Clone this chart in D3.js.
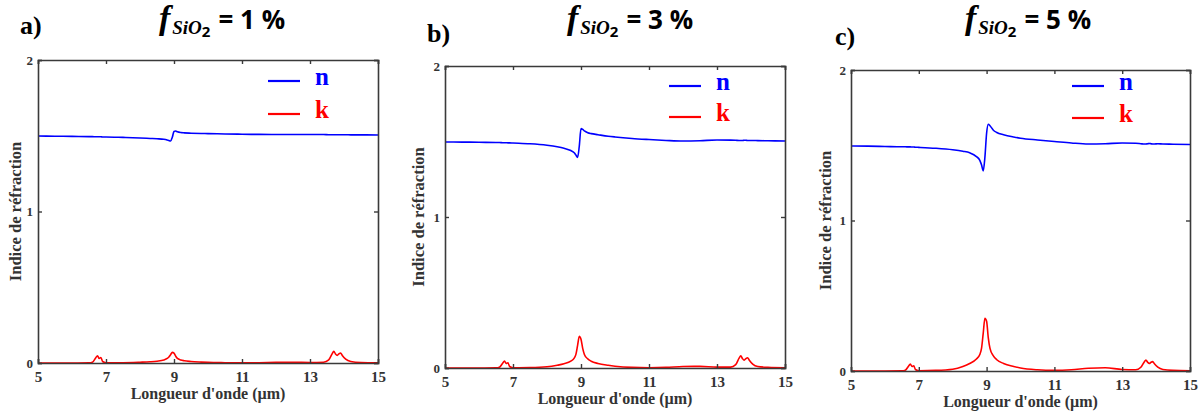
<!DOCTYPE html>
<html><head><meta charset="utf-8">
<script src="https://cdn.jsdelivr.net/npm/d3@7"></script>
<style>body{margin:0;background:#fff}svg{display:block}</style>
</head><body>
<svg id="c" width="1204" height="412"></svg>
<script>
// ---- data ----
const wavelength = [5,5.5,6,6.5,6.6,6.7,6.75,6.8,6.85,6.9,7.0,7.5,8,8.3,8.5,8.7,8.8,8.85,8.9,8.95,9.0,9.05,9.1,9.2,9.3,9.5,9.8,10,10.5,11,11.5,12,12.5,13,13.4,13.55,13.65,13.7,13.75,13.8,13.85,13.9,13.95,14.05,14.2,14.5,15];
const nA = [1.498,1.497,1.496,1.494,1.494,1.493,1.493,1.493,1.493,1.492,1.492,1.489,1.485,1.482,1.480,1.477,1.472,1.468,1.465,1.490,1.528,1.531,1.526,1.521,1.519,1.517,1.515,1.514,1.512,1.510,1.509,1.508,1.508,1.508,1.508,1.507,1.507,1.507,1.507,1.507,1.507,1.507,1.507,1.507,1.506,1.506,1.505];
const kA = [0,0,0,0.001,0.005,0.035,0.048,0.03,0.036,0.01,0.002,0.002,0.005,0.008,0.012,0.02,0.03,0.04,0.055,0.07,0.065,0.045,0.03,0.02,0.015,0.01,0.006,0.004,0.002,0.001,0.002,0.004,0.005,0.003,0.005,0.02,0.06,0.077,0.06,0.05,0.06,0.066,0.05,0.025,0.01,0.003,0.001];
const nB = [1.497,1.496,1.495,1.493,1.493,1.492,1.492,1.492,1.491,1.491,1.490,1.485,1.475,1.465,1.455,1.440,1.425,1.410,1.395,1.470,1.585,1.580,1.570,1.558,1.552,1.545,1.535,1.530,1.520,1.513,1.507,1.503,1.505,1.510,1.509,1.508,1.507,1.507,1.507,1.508,1.508,1.507,1.507,1.507,1.506,1.505,1.503];
const kB = [0,0,0,0.001,0.005,0.033,0.046,0.03,0.035,0.01,0.002,0.003,0.008,0.018,0.028,0.045,0.065,0.09,0.15,0.21,0.19,0.13,0.09,0.06,0.045,0.03,0.018,0.012,0.004,0.002,0.004,0.01,0.011,0.006,0.006,0.022,0.065,0.08,0.062,0.052,0.062,0.068,0.052,0.026,0.01,0.004,0.001];
const nC = [1.495,1.494,1.492,1.490,1.490,1.489,1.489,1.488,1.488,1.487,1.486,1.480,1.470,1.460,1.450,1.425,1.400,1.370,1.330,1.420,1.580,1.640,1.630,1.600,1.585,1.570,1.555,1.547,1.535,1.525,1.515,1.508,1.510,1.515,1.513,1.510,1.508,1.508,1.510,1.512,1.510,1.508,1.508,1.510,1.508,1.507,1.505];
const kC = [0,0,0,0.001,0.005,0.033,0.046,0.03,0.035,0.01,0.002,0.004,0.012,0.03,0.05,0.08,0.11,0.15,0.25,0.35,0.33,0.22,0.15,0.10,0.075,0.05,0.03,0.02,0.008,0.004,0.008,0.018,0.022,0.01,0.008,0.025,0.06,0.073,0.058,0.05,0.058,0.062,0.048,0.025,0.01,0.004,0.002];
const xTicks = [5,7,9,11,13,15];
const yTicks = [0,1,2];
const panelLetters = ["a)","b)","c)"];
const fractions = ["1","3","5"];
const seriesNames = ["n","k"];

// ---- layout ----
const layout = [
  {l:38, r:378, t:60, b:363, letterX:20, letterY:34, titleX:222, legX:268, legNY:81, legKY:114, ylabX:17},
  {l:445, r:785, t:66, b:368, letterX:427, letterY:42, titleX:630, legX:669, legNY:86, legKY:117, ylabX:420},
  {l:851, r:1190, t:70, b:371, letterX:835, letterY:45, titleX:1028, legX:1072, legNY:86, legKY:118, ylabX:827}
];
const nData = [nA,nB,nC], kData = [kA,kB,kC];
const colors = {n:"#0000ff", k:"#ff0000"};
const serif = "'Liberation Serif','Times New Roman',serif";
const sans = "'Open Sans','Liberation Sans',sans-serif";

const svg = d3.select("#c");

layout.forEach((L,i)=>{
  const g = svg.append("g");
  const x = d3.scaleLinear().domain([5,15]).range([L.l,L.r]);
  const y = d3.scaleLinear().domain([0,2]).range([L.b,L.t]);

  // curves
  const line = d3.line().x((d,j)=>x(wavelength[j])).y(d=>y(d)).curve(d3.curveMonotoneX);
  g.append("path").datum(nData[i]).attr("d",line).attr("fill","none").attr("stroke",colors.n).attr("stroke-width",1.6);
  g.append("path").datum(kData[i]).attr("d",line).attr("fill","none").attr("stroke",colors.k).attr("stroke-width",1.6);

  // axes
  const axB = g.append("g").attr("transform",`translate(0,${L.b})`)
    .call(d3.axisBottom(x).tickValues(xTicks).tickSize(-4).tickPadding(8).tickFormat(d3.format("d")));
  const axT = g.append("g").attr("transform",`translate(0,${L.t})`)
    .call(d3.axisTop(x).tickValues(xTicks).tickSize(-4).tickFormat(""));
  const axL = g.append("g").attr("transform",`translate(${L.l},0)`)
    .call(d3.axisLeft(y).tickValues(yTicks).tickSize(-4).tickPadding(5).tickFormat(d3.format("d")));
  const axR = g.append("g").attr("transform",`translate(${L.r},0)`)
    .call(d3.axisRight(y).tickValues(yTicks).tickSize(-4).tickFormat(""));
  [axB,axT,axL,axR].forEach(a=>{
    a.select(".domain").attr("stroke","#3a3a3a").attr("stroke-width",1.6);
    a.selectAll(".tick line").attr("stroke","#3a3a3a").attr("stroke-width",1.4);
    a.selectAll(".tick text").attr("font-family",serif).attr("font-weight","bold").attr("font-size",15).attr("fill","#333");
  });
  axL.selectAll(".tick text").attr("font-size",13);

  // axis labels
  g.append("text").attr("x",(L.l+L.r)/2).attr("y",L.b+36).attr("text-anchor","middle")
    .attr("font-family",serif).attr("font-weight","bold").attr("font-size",16).attr("fill","#333")
    .text("Longueur d'onde (µm)");
  g.append("text").attr("transform",`translate(${L.ylabX},${(L.t+L.b)/2}) rotate(-90)`)
    .attr("text-anchor","middle").attr("dominant-baseline","middle")
    .attr("font-family",serif).attr("font-weight","bold").attr("font-size",16.5).attr("fill","#333")
    .text("Indice de réfraction");

  // panel letter
  g.append("text").attr("x",L.letterX).attr("y",L.letterY)
    .attr("font-family",serif).attr("font-weight","bold").attr("font-size",26).attr("fill","#000")
    .text(panelLetters[i]);

  // title
  const t = g.append("text").attr("x",L.titleX).attr("y",29).attr("text-anchor","middle").attr("fill","#000");
  t.append("tspan").attr("font-family",serif).attr("font-style","italic").attr("font-weight","bold").attr("font-size",34).text("f");
  t.append("tspan").attr("font-family",serif).attr("font-style","italic").attr("font-weight","bold").attr("font-size",19).attr("dy",5).attr("dx",2).text("SiO");
  t.append("tspan").attr("font-family",sans).attr("font-weight","bold").attr("font-size",15).attr("dy",3).text("2");
  t.append("tspan").attr("font-family",sans).attr("font-weight","bold").attr("font-size",26).attr("dy",-8).attr("dx",8).text("= " + fractions[i] + " %");

  // legend
  [["n",L.legNY],["k",L.legKY]].forEach(([s,yy])=>{
    g.append("line").attr("x1",L.legX).attr("x2",L.legX+32).attr("y1",yy).attr("y2",yy)
      .attr("stroke",colors[s]).attr("stroke-width",2.2);
    g.append("text").attr("x",L.legX+47).attr("y",yy-2).attr("dominant-baseline","middle")
      .attr("font-family",serif).attr("font-weight","bold").attr("font-size",25).attr("fill",colors[s]).text(s);
  });
});
</script>
</body></html>
